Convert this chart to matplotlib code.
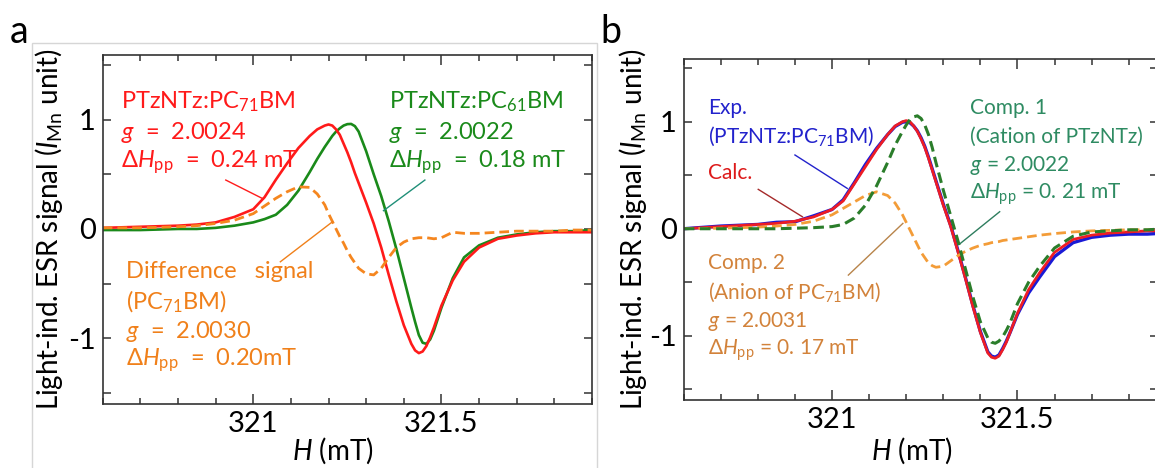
import matplotlib
matplotlib.use('Agg')
import matplotlib.pyplot as plt
from matplotlib.patches import Rectangle
from matplotlib.ticker import MultipleLocator, FixedLocator

plt.rcParams['font.family'] = ['Lato', 'DejaVu Sans']
plt.rcParams['mathtext.fontset'] = 'custom'
plt.rcParams['mathtext.rm'] = 'Lato'
plt.rcParams['mathtext.it'] = 'Lato:italic'
plt.rcParams['mathtext.sf'] = 'Lato'

# ---- data (field in mT, signal in I_Mn units) ----
field = [320.60, 320.70, 320.80, 320.85, 320.90, 320.95, 321.00, 321.03, 321.06, 321.09,
         321.12, 321.15, 321.17, 321.19, 321.20, 321.21, 321.22, 321.23, 321.24, 321.25,
         321.26, 321.27, 321.28, 321.30, 321.32, 321.34, 321.36, 321.38, 321.40, 321.42,
         321.43, 321.44, 321.45, 321.46, 321.47, 321.48, 321.50, 321.53, 321.56, 321.60,
         321.65, 321.70, 321.75, 321.80, 321.85, 321.90]

# panel a
pc71_blend = [0.01, 0.02, 0.03, 0.04, 0.06, 0.11, 0.18, 0.29, 0.45, 0.60,
              0.74, 0.85, 0.91, 0.945, 0.955, 0.945, 0.91, 0.86, 0.78, 0.70,
              0.61, 0.51, 0.42, 0.24, 0.05, -0.17, -0.42, -0.66, -0.88, -1.05,
              -1.11, -1.135, -1.12, -1.07, -0.99, -0.90, -0.70, -0.47, -0.30, -0.17,
              -0.09, -0.06, -0.04, -0.03, -0.03, -0.03]
pc61_blend = [-0.01, -0.01, 0.0, 0.0, 0.01, 0.03, 0.06, 0.09, 0.13, 0.22,
              0.35, 0.52, 0.64, 0.75, 0.80, 0.85, 0.89, 0.92, 0.945, 0.958,
              0.96, 0.94, 0.89, 0.71, 0.50, 0.30, 0.07, -0.18, -0.45, -0.72,
              -0.85, -0.97, -1.04, -1.05, -1.01, -0.93, -0.72, -0.45, -0.26, -0.15,
              -0.08, -0.05, -0.03, -0.02, -0.02, -0.01]
diff_signal = [0.01, 0.01, 0.02, 0.03, 0.05, 0.08, 0.14, 0.21, 0.28, 0.34,
               0.385, 0.38, 0.32, 0.22, 0.14, 0.07, 0.0, -0.07, -0.13, -0.20,
               -0.26, -0.31, -0.36, -0.41, -0.42, -0.36, -0.26, -0.17, -0.12, -0.09,
               -0.085, -0.08, -0.08, -0.08, -0.085, -0.09, -0.08, -0.03, -0.04, -0.04,
               -0.03, -0.02, -0.02, -0.02, -0.01, -0.01]

# panel b
exp_signal = [0.0, 0.025, 0.04, 0.06, 0.065, 0.12, 0.18, 0.27, 0.43, 0.60,
              0.75, 0.88, 0.955, 0.995, 1.00, 0.99, 0.96, 0.915, 0.85, 0.77,
              0.67, 0.56, 0.45, 0.23, 0.03, -0.21, -0.46, -0.72, -0.96, -1.15,
              -1.19, -1.20, -1.18, -1.12, -1.05, -0.97, -0.80, -0.60, -0.45, -0.26,
              -0.13, -0.08, -0.06, -0.05, -0.05, -0.04]
calc_signal = [0.0, 0.02, 0.04, 0.05, 0.07, 0.11, 0.18, 0.26, 0.42, 0.58,
               0.74, 0.88, 0.96, 1.00, 1.01, 1.00, 0.96, 0.91, 0.84, 0.76,
               0.66, 0.55, 0.44, 0.22, 0.02, -0.22, -0.47, -0.73, -0.97, -1.16,
               -1.20, -1.21, -1.19, -1.13, -1.06, -0.97, -0.79, -0.57, -0.41, -0.22,
               -0.10, -0.06, -0.04, -0.03, -0.02, -0.02]
comp1 = [0.0, 0.0, 0.0, 0.0, 0.005, 0.01, 0.02, 0.04, 0.10, 0.22,
         0.40, 0.62, 0.78, 0.91, 0.97, 1.02, 1.045, 1.055, 1.03, 0.97,
         0.88, 0.76, 0.62, 0.36, 0.12, -0.12, -0.38, -0.64, -0.87, -1.02,
         -1.06, -1.07, -1.05, -1.01, -0.95, -0.88, -0.70, -0.50, -0.35, -0.18,
         -0.07, -0.03, -0.02, -0.01, -0.01, 0.0]
comp2 = [0.0, 0.005, 0.015, 0.025, 0.04, 0.07, 0.13, 0.19, 0.25, 0.31,
         0.345, 0.31, 0.24, 0.13, 0.06, -0.01, -0.08, -0.15, -0.22, -0.27,
         -0.32, -0.345, -0.36, -0.35, -0.30, -0.25, -0.21, -0.18, -0.155, -0.14,
         -0.13, -0.125, -0.12, -0.11, -0.105, -0.10, -0.09, -0.075, -0.06, -0.045,
         -0.03, -0.02, -0.015, -0.01, -0.01, -0.005]

W, H = 1155, 468
fig = plt.figure(figsize=(W / 100, H / 100), dpi=100)


def px_axes(x0, y0, x1, y1):
    # pixel box (top-left origin) -> figure fraction
    return fig.add_axes([x0 / W, 1 - y1 / H, (x1 - x0) / W, (y1 - y0) / H])


def style_axes(ax, ylim):
    ax.set_ylim(*ylim)
    ax.xaxis.set_major_locator(FixedLocator([321.0, 321.5]))
    ax.xaxis.set_minor_locator(MultipleLocator(0.1))
    ax.set_xticklabels(['321', '321.5'])
    ax.yaxis.set_major_locator(FixedLocator([-1.5, -1, -0.5, 0, 0.5, 1, 1.5]))
    ax.set_yticklabels(['', '-1', '', '0', '', '1', ''])
    ax.tick_params(which='both', direction='in', top=True, right=True,
                   width=1.1, color='#333333', labelsize=21, pad=5)
    ax.tick_params(axis='x', which='major', length=7.5)
    ax.tick_params(axis='x', which='minor', length=4)
    ax.tick_params(axis='y', which='major', length=6)
    for s in ax.spines.values():
        s.set_linewidth(1.2)
        s.set_color('#333333')


# light frame around panel a
fig.add_artist(Rectangle((32 / W, -0.1), (597 - 32) / W, 1.1 - 43 / H,
                         transform=fig.transFigure, fill=False,
                         edgecolor='#d6d6d6', lw=1))

# ---------------- panel a ----------------
ax1 = px_axes(102.7, 55, 592, 404)
ax1.set_xlim(320.6, 321.9)
ax1.plot(field, pc61_blend, color='#1a8a1a', lw=1.9)
ax1.plot(field, pc71_blend, color='#ff1a1a', lw=1.9)
ax1.plot(field, diff_signal, color='#f5861f', lw=2.0, ls=(0, (3.5, 1.8)))
style_axes(ax1, (-1.6, 1.59))

fa = 17
red_a, green_a, orange_a = '#ff1a1a', '#1a8a1a', '#f0801a'
for y, s in [(1.16, 'PTzNTz:PC$_{71}$BM'), (0.886, '$g$  =  2.0024'),
             (0.61, r'$\Delta H_{\mathrm{pp}}$  =  0.24 mT')]:
    ax1.text(320.649, y, s, color=red_a, fontsize=fa, va='center')
for y, s in [(1.16, 'PTzNTz:PC$_{61}$BM'), (0.886, '$g$  =  2.0022'),
             (0.61, r'$\Delta H_{\mathrm{pp}}$  =  0.18 mT')]:
    ax1.text(321.361, y, s, color=green_a, fontsize=fa, va='center')
for y, s in [(-0.39, 'Difference   signal'), (-0.67, '(PC$_{71}$BM)'),
             (-0.94, '$g$  =  2.0030'), (-1.20, r'$\Delta H_{\mathrm{pp}}$  =  0.20mT')]:
    ax1.text(320.662, y, s, color=orange_a, fontsize=fa, va='center')

ax1.plot([320.927, 321.027], [0.447, 0.274], color='#ff1a1a', lw=1)
ax1.plot([321.456, 321.346], [0.447, 0.167], color='#1f8f78', lw=1)
ax1.plot([321.072, 321.211], [-0.30, 0.067], color='#f0801a', lw=1)

# ---------------- panel b ----------------
ax2 = px_axes(683.7, 59.3, 1158.4, 400)
ax2.set_xlim(320.6, 321.88)
ax2.plot(field, exp_signal, color='#1a1ad6', lw=2.4)
ax2.plot(field, calc_signal, color='#ee1c24', lw=2.0)
ax2.plot(field, comp2, color='#f39c38', lw=2.0, ls=(0, (3.5, 1.8)))
ax2.plot(field, comp1, color='#2a7d2a', lw=2.2, ls=(0, (3.5, 1.8)))
style_axes(ax2, (-1.6, 1.583))

fb = 15
blue_b, red_b, teal_b, brown_b = '#2222cc', '#dd1a1a', '#2e8b62', '#d2823a'
ax2.text(320.666, 1.125, 'Exp.', color=blue_b, fontsize=fb, va='center')
ax2.text(320.666, 0.86, '(PTzNTz:PC$_{71}$BM)', color=blue_b, fontsize=fb, va='center')
ax2.text(320.666, 0.518, 'Calc.', color=red_b, fontsize=fb, va='center')
for y, s in [(1.125, 'Comp. 1'), (0.86, '(Cation of PTzNTz)'),
             (0.589, '$g$ = 2.0022'), (0.32, r'$\Delta H_{\mathrm{pp}}$ = 0. 21 mT')]:
    ax2.text(321.373, y, s, color=teal_b, fontsize=fb, va='center')
for y, s in [(-0.323, 'Comp. 2'), (-0.589, '(Anion of PC$_{71}$BM)'),
             (-0.87, '$g$ = 2.0031'), (-1.134, r'$\Delta H_{\mathrm{pp}}$ = 0. 17 mT')]:
    ax2.text(320.666, y, s, color=brown_b, fontsize=fb, va='center')

ax2.plot([320.90, 321.041], [0.689, 0.377], color='#2222cc', lw=1)
ax2.plot([320.801, 320.92], [0.368, 0.112], color='#a52a2a', lw=1)
ax2.plot([321.452, 321.346], [0.159, -0.137], color='#2e7d5e', lw=1)
ax2.plot([321.044, 321.191], [-0.433, 0.05], color='#b8844a', lw=1)

# axis labels and panel letters
ylab = r'Light-ind. ESR signal ($\mathit{I}_{\mathrm{Mn}}$ unit)'
fig.text(49 / W, 1 - 229 / H, ylab, rotation=90, ha='center', va='center', fontsize=20)
fig.text(633 / W, 1 - 229 / H, ylab, rotation=90, ha='center', va='center', fontsize=20)
fig.text(333 / W, 1 - 451 / H, '$H$ (mT)', ha='center', va='center', fontsize=20)
fig.text(912 / W, 1 - 451 / H, '$H$ (mT)', ha='center', va='center', fontsize=20)
fig.text(10 / W, 1 - 43 / H, 'a', fontsize=27, ha='left', va='baseline')
fig.text(600 / W, 1 - 43 / H, 'b', fontsize=27, ha='left', va='baseline')

plt.savefig('out.png', dpi=100)
plt.close()
